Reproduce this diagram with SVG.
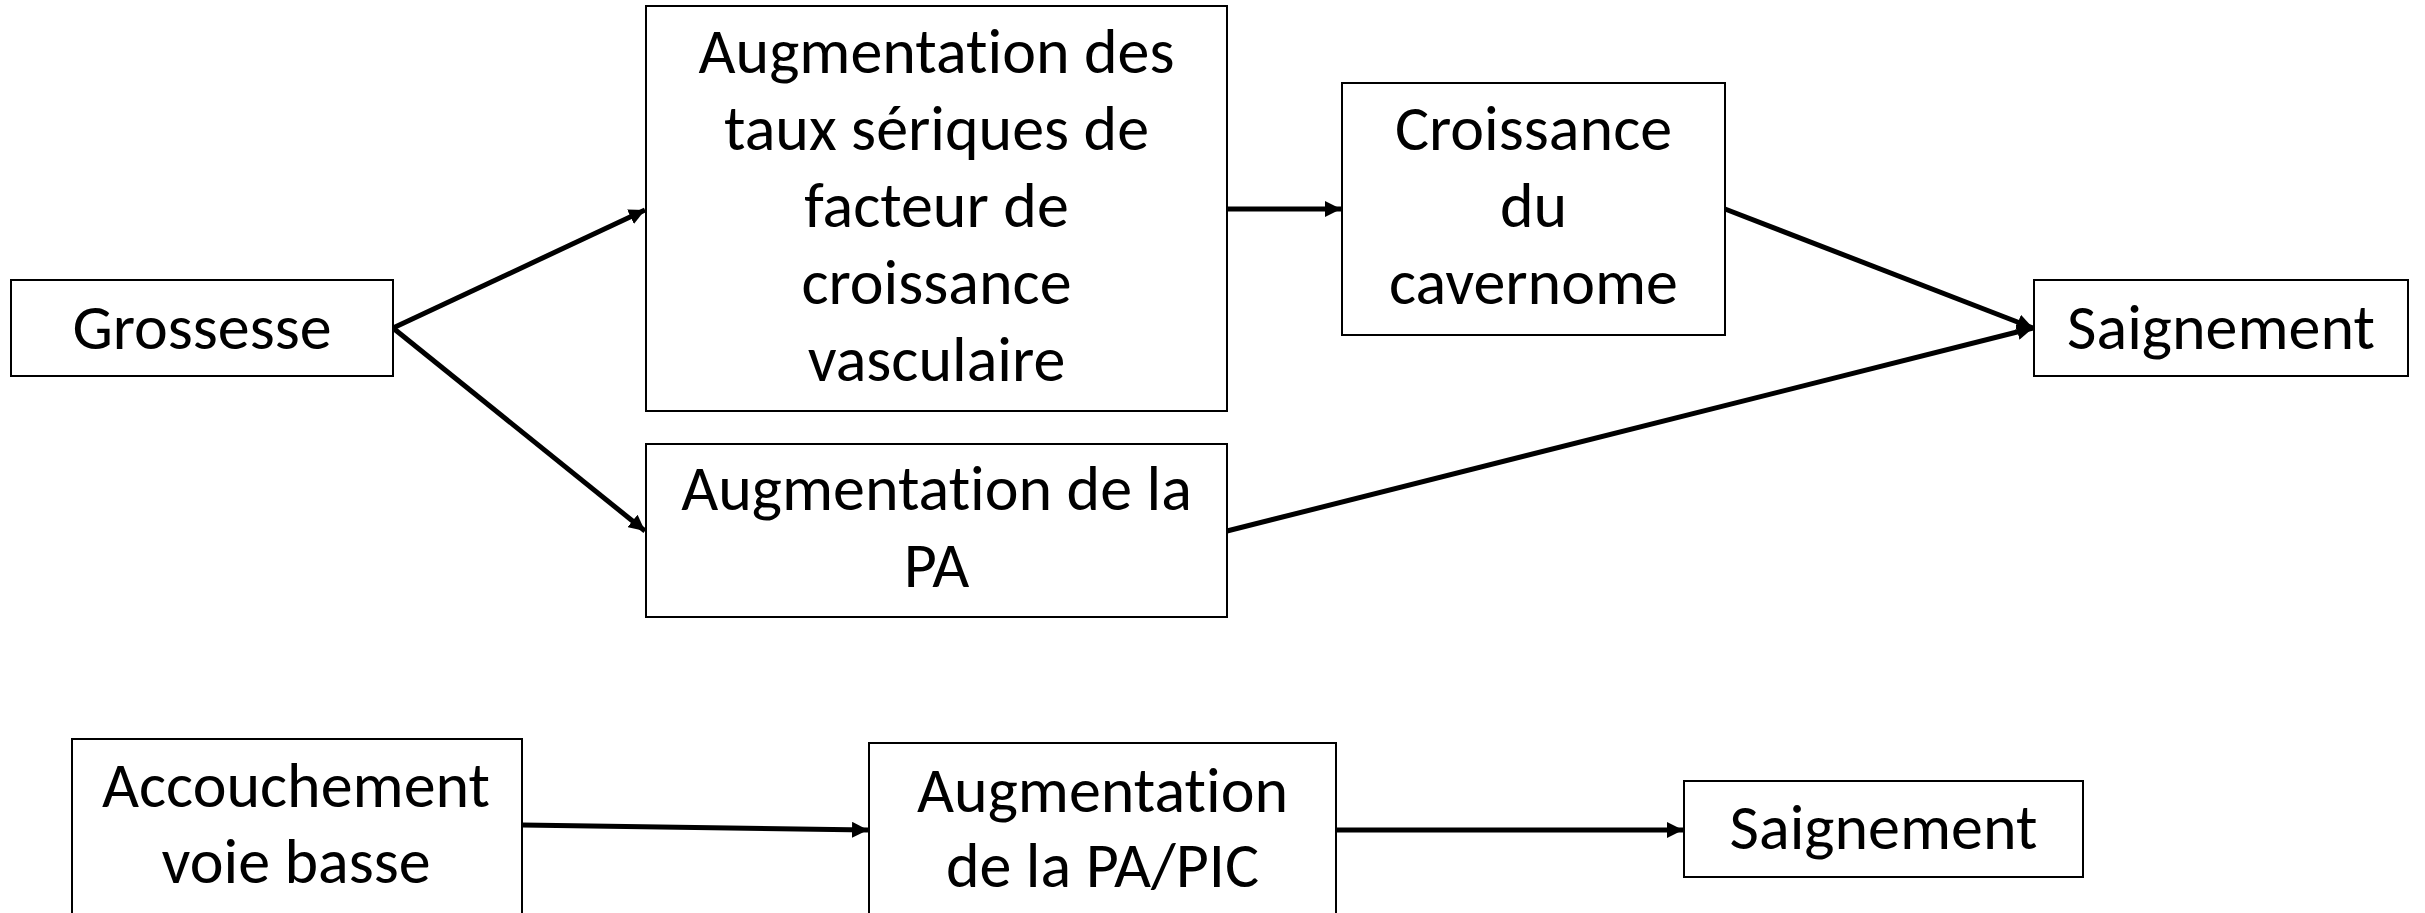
<svg xmlns="http://www.w3.org/2000/svg" width="2425" height="913" viewBox="0 0 2425 913">
<style>
.box{fill:#fff;stroke:#000;stroke-width:2}
.t{font-family:Carlito,Lato,"Liberation Sans",sans-serif;font-size:64px;fill:#000;text-anchor:middle;font-variant-ligatures:none}
.c{stroke:#000;stroke-width:5;fill:none;marker-end:url(#ah)}
</style>
<defs>
<marker id="ah" markerUnits="userSpaceOnUse" markerWidth="16" markerHeight="16" refX="16" refY="8" orient="auto">
<path d="M0,0 L16,8 L0,16 z" fill="#000"/>
</marker>
</defs>
<rect width="2425" height="913" fill="#fff"/>
<g id="connectors">
<line class="c" x1="393" y1="328" x2="645" y2="210"/>
<line class="c" x1="393" y1="328" x2="645" y2="531"/>
<line class="c" x1="1227" y1="209" x2="1341" y2="209"/>
<line class="c" x1="1725" y1="209" x2="2033" y2="328"/>
<line class="c" x1="1227" y1="531" x2="2033" y2="328"/>
<line class="c" x1="522" y1="825" x2="868" y2="830"/>
<line class="c" x1="1336" y1="830" x2="1683" y2="830"/>
</g>
<g id="grossesse"><rect class="box" x="11" y="280" width="382" height="96"/><text class="t" x="202" y="349">Grossesse</text></g>
<g id="vegf"><rect class="box" x="646" y="6" width="581" height="405"/>
<text class="t" x="936.5" y="73">Augmentation des</text>
<text class="t" x="936.5" y="150">taux sériques de</text>
<text class="t" x="936.5" y="227">facteur de</text>
<text class="t" x="936.5" y="304">croissance</text>
<text class="t" x="936.5" y="381">vasculaire</text></g>
<g id="croissance"><rect class="box" x="1342" y="83" width="383" height="252"/>
<text class="t" x="1533.5" y="150">Croissance</text>
<text class="t" x="1533.5" y="227">du</text>
<text class="t" x="1533.5" y="304">cavernome</text></g>
<g id="saignement1"><rect class="box" x="2034" y="280" width="374" height="96"/><text class="t" x="2221" y="349">Saignement</text></g>
<g id="pa"><rect class="box" x="646" y="444" width="581" height="173"/>
<text class="t" x="936.5" y="510">Augmentation de la</text>
<text class="t" x="936.5" y="587">PA</text></g>
<g id="accouchement"><rect class="box" x="72" y="739" width="450" height="200"/>
<text class="t" x="296" y="807">Accouchement</text>
<text class="t" x="296" y="883">voie basse</text></g>
<g id="papic"><rect class="box" x="869" y="743" width="467" height="200"/>
<text class="t" x="1102.5" y="812">Augmentation</text>
<text class="t" x="1102.5" y="887">de la PA/PIC</text></g>
<g id="saignement2"><rect class="box" x="1684" y="781" width="399" height="96"/><text class="t" x="1883.5" y="849">Saignement</text></g>
</svg>
